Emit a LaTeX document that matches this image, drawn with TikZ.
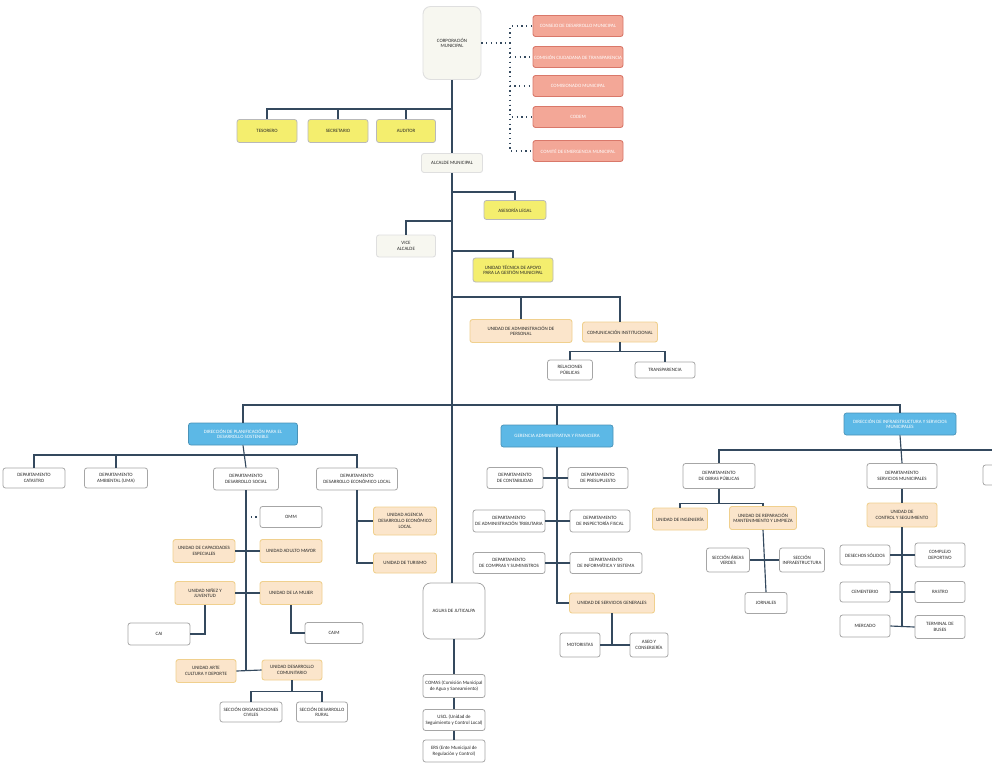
\documentclass[tikz,border=0pt]{standalone}
\usepackage{fontspec}
\setmainfont{Carlito}
\usetikzlibrary{positioning}
\definecolor{linecol}{HTML}{34495E}
\definecolor{yelfill}{HTML}{F4EE6E}
\definecolor{redfill}{HTML}{F3A797}
\definecolor{redline}{HTML}{D9786A}
\definecolor{bluefill}{HTML}{5CB8E6}
\definecolor{peachfill}{HTML}{FBE5CB}
\definecolor{peachline}{HTML}{F0D08E}
\definecolor{palefill}{HTML}{F7F7F0}
\tikzset{
  box/.style       = { rectangle, rounded corners=0.5mm, align=center, inner sep=0.2mm,
                       font=\fontsize{2.8}{3.3}\selectfont, text=black!85 },
  wd/.style        = { minimum width=#1*0.2mm },
  ht/.style        = { minimum height=#1*0.2mm },
  border/.style    = { draw=gray!70, line width=0.45pt },
}
\tikzset{
  yellowbox/.style = { box, border, fill=yelfill, draw=gray!55 },
  redbox/.style    = { box, fill=redfill, draw=redline, line width=0.5pt, text=white },
  bluebox/.style   = { box, fill=bluefill, draw=bluefill!80!black, text=white },
  peachbox/.style  = { box, fill=peachfill, draw=peachline, line width=0.5pt },
  whitebox/.style  = { box, border, fill=white },
  palebox/.style   = { box, fill=palefill, draw=gray!25, line width=0.5pt },
  link/.style      = { draw=linecol, line width=0.65pt },
  dotlink/.style   = { draw=linecol, line width=0.7pt, dotted },
}

\begin{document}
\begin{tikzpicture}[x=0.2mm,y=-0.2mm]
  \clip (0,0) rectangle (992,766);
  \fill [white] (0,0) rectangle (992,766);

  % top of the chart
  \node (corp) [palebox,wd=58,ht=73,rounded corners=1.5mm] at (452,43) {CORPORACIÓN\\MUNICIPAL};
  \node (r1)   [redbox,wd=90,ht=21] at (578,26)  {CONSEJO DE DESARROLLO MUNICIPAL};
  \node (r2)   [redbox,wd=90,ht=21] at (578,57)  {COMISIÓN CIUDADANA DE TRANSPARENCIA};
  \node (r3)   [redbox,wd=90,ht=21] at (578,86)  {COMISIONADO MUNICIPAL};
  \node (r4)   [redbox,wd=90,ht=21] at (578,117) {CODEM};
  \node (r5)   [redbox,wd=90,ht=21] at (578,151) {COMITÉ DE EMERGENCIA MUNICIPAL};
  \coordinate (dj) at (510,43);

  \node (tes)  [yellowbox,wd=60,ht=23] at (267,131) {TESORERO};
  \node (sec)  [yellowbox,wd=60,ht=23] at (338,131) {SECRETARIO};
  \node (aud)  [yellowbox,wd=59,ht=23] at (406,131) {AUDITOR};
  \node (alc)  [palebox,wd=61,ht=19]   at (452,163) {ALCALDE MUNICIPAL};
  \node (ase)  [yellowbox,wd=62,ht=19] at (515,210) {ASESORÍA LEGAL};
  \node (vice) [palebox,wd=59,ht=22]   at (406,246) {VICE\\ALCALDE};
  \node (uta)  [yellowbox,wd=80,ht=24] at (513,270) {UNIDAD TÉCNICA DE APOYO\\PARA LA GESTIÓN MUNICIPAL};
  \node (uap)  [peachbox,wd=102,ht=23] at (521,331) {UNIDAD DE ADMINISTRACIÓN DE\\PERSONAL};
  \node (com)  [peachbox,wd=75,ht=20]  at (620,332) {COMUNICACIÓN INSTITUCIONAL};
  \node (rel)  [whitebox,wd=45,ht=20]  at (570,370) {RELACIONES\\PÚBLICAS};
  \node (tra)  [whitebox,wd=60,ht=16]  at (665,370) {TRANSPARENCIA};

  % three management areas
  \node (gpl)  [bluebox,wd=109,ht=22] at (243,434) {DIRECCIÓN DE PLANIFICACIÓN PARA EL\\DESARROLLO SOSTENIBLE};
  \node (gaf)  [bluebox,wd=112,ht=22] at (557,436) {GERENCIA ADMINISTRATIVA Y FINANCIERA};
  \node (gis)  [bluebox,wd=112,ht=22] at (900,424) {DIRECCIÓN DE INFRAESTRUCTURA Y SERVICIOS\\MUNICIPALES};

  % planning
  \node (cat)  [whitebox,wd=62,ht=20] at (34,478)  {DEPARTAMENTO\\CATASTRO};
  \node (amb)  [whitebox,wd=63,ht=20] at (116,478) {DEPARTAMENTO\\AMBIENTAL (UMA)};
  \node (dso)  [whitebox,wd=65,ht=22] at (246,479) {DEPARTAMENTO\\DESARROLLO SOCIAL};
  \node (del)  [whitebox,wd=81,ht=22] at (357,479) {DEPARTAMENTO\\DESARROLLO ECONÓMICO LOCAL};
  \node (omm)  [whitebox,wd=62,ht=21] at (291,517) {OMM};
  \node (cap)  [peachbox,wd=62,ht=23] at (204,551) {UNIDAD DE CAPACIDADES\\ESPECIALES};
  \node (uam)  [peachbox,wd=62,ht=23] at (291,551) {UNIDAD ADULTO MAYOR};
  \node (nin)  [peachbox,wd=60,ht=23] at (205,593) {UNIDAD NIÑEZ Y\\JUVENTUD};
  \node (mu)   [peachbox,wd=62,ht=23] at (291,593) {UNIDAD DE LA MUJER};
  \node (cai)  [whitebox,wd=62,ht=22] at (159,634) {CAI};
  \node (caim) [whitebox,wd=58,ht=21] at (334,633) {CAIM};
  \node (arte) [peachbox,wd=60,ht=23] at (206,671) {UNIDAD ARTE\\CULTURA Y DEPORTE};
  \node (udc)  [peachbox,wd=60,ht=20] at (292,670) {UNIDAD DESARROLLO\\COMUNITARIO};
  \node (soc)  [whitebox,wd=62,ht=20] at (251,712) {SECCIÓN ORGANIZACIONES\\CIVILES};
  \node (sdr)  [whitebox,wd=51,ht=20] at (322,712) {SECCIÓN DESARROLLO\\RURAL};
  \node (age)  [peachbox,wd=63,ht=28] at (405,521) {UNIDAD AGENCIA\\DESARROLLO ECONÓMICO\\LOCAL};
  \node (tur)  [peachbox,wd=63,ht=20] at (405,563) {UNIDAD DE TURISMO};

  % administration and finance
  \node (con)  [whitebox,wd=56,ht=21] at (515,478) {DEPARTAMENTO\\DE CONTABILIDAD};
  \node (pre)  [whitebox,wd=60,ht=21] at (598,478) {DEPARTAMENTO\\DE PRESUPUESTO};
  \node (tri)  [whitebox,wd=72,ht=22] at (509,521) {DEPARTAMENTO\\DE ADMINISTRACIÓN TRIBUTARIA};
  \node (fis)  [whitebox,wd=60,ht=22] at (600,521) {DEPARTAMENTO\\DE INSPECTORÍA FISCAL};
  \node (cmp)  [whitebox,wd=72,ht=21] at (509,563) {DEPARTAMENTO\\DE COMPRAS Y SUMINISTROS};
  \node (inf)  [whitebox,wd=72,ht=21] at (606,563) {DEPARTAMENTO\\DE INFORMÁTICA Y SISTEMA};
  \node (usg)  [peachbox,wd=85,ht=20] at (612,603) {UNIDAD DE SERVICIOS GENERALES};
  \node (mot)  [whitebox,wd=40,ht=24] at (580,645) {MOTORISTAS};
  \node (asc)  [whitebox,wd=38,ht=24] at (649,645) {ASEO Y\\CONSERJERÍA};
  \node (agu)  [whitebox,wd=62,ht=56,rounded corners=1.5mm] at (454,611) {AGUAS DE JUTICALPA};
  \node (cms)  [whitebox,wd=62,ht=23] at (454,686) {COMAS (Comisión Municipal\\de Agua y Saneamiento)};
  \node (usc)  [whitebox,wd=62,ht=21] at (454,720) {USCL (Unidad de\\Seguimiento y Control Local)};
  \node (ers)  [whitebox,wd=62,ht=22] at (454,751) {ERS (Ente Municipal de\\Regulación y Control)};

  % infrastructure and services
  \node (dop)  [whitebox,wd=72,ht=25] at (719,476) {DEPARTAMENTO\\DE OBRAS PÚBLICAS};
  \node (dsm)  [whitebox,wd=70,ht=25] at (902,476) {DEPARTAMENTO\\SERVICIOS MUNICIPALES};
  \node (xr)   [whitebox,wd=50,ht=20] at (1008,475) {};
  \node (uin)  [peachbox,wd=55,ht=22] at (680,519) {UNIDAD DE INGENIERÍA};
  \node (urm)  [peachbox,wd=67,ht=23] at (763,518) {UNIDAD DE REPARACIÓN\\MANTENIMIENTO Y LIMPIEZA};
  \node (sav)  [whitebox,wd=43,ht=24] at (728,560) {SECCIÓN ÁREAS\\VERDES};
  \node (sin)  [whitebox,wd=45,ht=24] at (802,560) {SECCIÓN\\INFRAESTRUCTURA};
  \node (jor)  [whitebox,wd=42,ht=21] at (766,603) {JORNALES};
  \node (ucs)  [peachbox,wd=70,ht=24] at (902,515) {UNIDAD DE\\CONTROL Y SEGUIMIENTO};
  \node (des)  [whitebox,wd=50,ht=20] at (865,555) {DESECHOS SÓLIDOS};
  \node (cdp)  [whitebox,wd=50,ht=24] at (940,555) {COMPLEJO\\DEPORTIVO};
  \node (cem)  [whitebox,wd=50,ht=20] at (865,592) {CEMENTERIO};
  \node (ras)  [whitebox,wd=50,ht=21] at (940,592) {RASTRO};
  \node (mer)  [whitebox,wd=50,ht=22] at (865,626) {MERCADO};
  \node (ter)  [whitebox,wd=50,ht=23] at (940,627) {TERMINAL DE\\BUSES};

  % connectors, top
  \draw [dotlink] (corp.east) -- (dj);
  \foreach \r in {r1,r2,r3,r4,r5}
    \draw [dotlink] (dj) |- (\r.west);
  \draw [link] (corp.south) -- (alc.north);
  \draw [link] (alc.south) -- (alc.south |- agu.north);
  \coordinate (j1) at (452,109);
  \foreach \n in {tes,sec,aud}
    \draw [link] (j1) -| (\n.north);
  \coordinate (j2) at (452,192);
  \draw [link] (j2) -| (ase.north);
  \coordinate (j3) at (452,221);
  \draw [link] (j3) -| (vice.north);
  \coordinate (j4) at (452,251);
  \draw [link] (j4) -| (uta.north);
  \coordinate (j5) at (452,297);
  \draw [link] (j5) -| (uap.north);
  \draw [link] (j5) -| (com.north);
  \draw [link] (com.south) -- ++(0,9) coordinate (j6);
  \draw [link] (j6) -| (rel.north);
  \draw [link] (j6) -| (tra.north);
  \coordinate (j7) at (452,405);
  \foreach \n in {gpl,gaf,gis}
    \draw [link] (j7) -| (\n.north);

  % connectors, planning
  \coordinate (j8) at (246,455);
  \draw [link] (gpl.south) -- (dso.north);
  \foreach \n in {cat,amb,del}
    \draw [link] (j8) -| (\n.north);
  \draw [link] (dso.south) -- (dso.south |- udc.west);
  \draw [dotlink] (dso.south |- omm.west) -- (omm.west);
  \draw [link] (cap.east) -- (uam.west);
  \draw [link] (nin.east) -- (mu.west);
  \draw [link] (arte.east) -- (udc.west);
  \draw [link] (nin.south) |- (cai.east);
  \draw [link] (mu.south) |- (caim.west);
  \draw [link] (udc.south) -- ++(0,11) coordinate (j10);
  \draw [link] (j10) -| (soc.north);
  \draw [link] (j10) -| (sdr.north);
  \draw [link] (del.south) |- (age.west);
  \draw [link] (del.south) |- (tur.west);

  % connectors, administration
  \draw [link] (gaf.south) |- (usg.west);
  \draw [link] (con.east) -- (pre.west);
  \draw [link] (tri.east) -- (fis.west);
  \draw [link] (cmp.east) -- (inf.west);
  \draw [link] (usg.south) -- (usg.south |- mot.east);
  \draw [link] (mot.east) -- (asc.west);
  \draw [link] (agu.south) -- (cms.north);
  \draw [link] (cms.south) -- (usc.north);
  \draw [link] (usc.south) -- (ers.north);

  % connectors, infrastructure
  \coordinate (j11) at (902,450);
  \draw [link] (gis.south) -- (dsm.north);
  \draw [link] (j11) -| (dop.north);
  \draw [link] (j11) -| (xr.north);
  \draw [link] (dop.south) -- ++(0,15) coordinate (j12);
  \draw [link] (j12) -| (uin.north);
  \draw [link] (j12) -| (urm.north);
  \draw [link] (urm.south) -- (jor.north);
  \draw [link] (sav.east) -- (sin.west);
  \draw [link] (dsm.south) -- (ucs.north);
  \draw [link] (ucs.south) -- (ucs.south |- mer.east);
  \draw [link] (des.east) -- (cdp.west);
  \draw [link] (cem.east) -- (ras.west);
  \draw [link] (mer.east) -- (ter.west);
\end{tikzpicture}
\end{document}
